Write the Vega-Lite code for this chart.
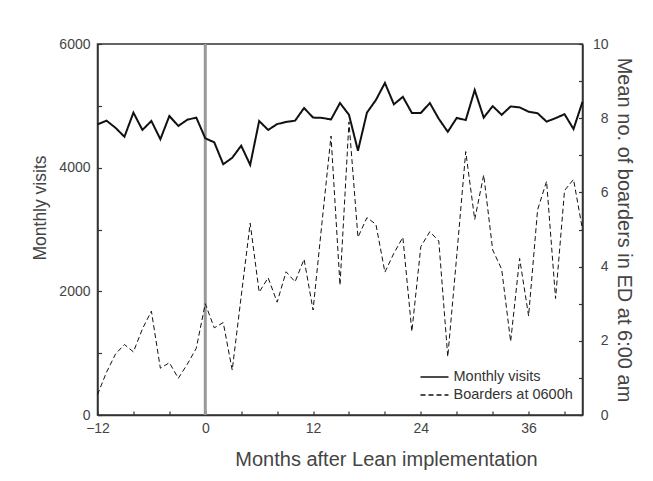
{
  "$schema": "https://vega.github.io/schema/vega-lite/v6.json",
  "width": 485,
  "height": 371,
  "autosize": {"type": "none"},
  "padding": {"left": 97.5, "top": 44, "right": 70.5, "bottom": 66},
  "background": "white",
  "config": {
    "font": "Liberation Sans",
    "view": {"stroke": "#333", "strokeWidth": 1.5},
    "axis": {
      "grid": false,
      "domainColor": "#333",
      "domainWidth": 1.5,
      "tickColor": "#333",
      "tickWidth": 1.2,
      "tickSize": -4,
      "labelColor": "#444",
      "titleColor": "#444",
      "labelFontSize": 14,
      "titleFontSize": 20,
      "titleFontWeight": "normal",
      "labelOverlap": false
    }
  },
  "data": {
    "values": [
      {"m": -12, "visits": 4700, "boarders": 0.55},
      {"m": -11, "visits": 4760, "boarders": 1.15},
      {"m": -10, "visits": 4645, "boarders": 1.64},
      {"m": -9, "visits": 4500, "boarders": 1.9},
      {"m": -8, "visits": 4890, "boarders": 1.7},
      {"m": -7, "visits": 4610, "boarders": 2.32},
      {"m": -6, "visits": 4755, "boarders": 2.8},
      {"m": -5, "visits": 4460, "boarders": 1.26},
      {"m": -4, "visits": 4835, "boarders": 1.41},
      {"m": -3, "visits": 4675, "boarders": 0.99},
      {"m": -2, "visits": 4775, "boarders": 1.37},
      {"m": -1, "visits": 4810, "boarders": 1.8},
      {"m": 0, "visits": 4475, "boarders": 3.0},
      {"m": 1, "visits": 4410, "boarders": 2.35},
      {"m": 2, "visits": 4055, "boarders": 2.49},
      {"m": 3, "visits": 4160, "boarders": 1.21},
      {"m": 4, "visits": 4355, "boarders": 3.2},
      {"m": 5, "visits": 4045, "boarders": 5.17},
      {"m": 6, "visits": 4755, "boarders": 3.31},
      {"m": 7, "visits": 4610, "boarders": 3.7},
      {"m": 8, "visits": 4705, "boarders": 3.04},
      {"m": 9, "visits": 4740, "boarders": 3.86},
      {"m": 10, "visits": 4760, "boarders": 3.59},
      {"m": 11, "visits": 4965, "boarders": 4.2},
      {"m": 12, "visits": 4810, "boarders": 2.83},
      {"m": 13, "visits": 4805, "boarders": 5.2},
      {"m": 14, "visits": 4780, "boarders": 7.52},
      {"m": 15, "visits": 5045, "boarders": 3.5},
      {"m": 16, "visits": 4855, "boarders": 7.9},
      {"m": 17, "visits": 4275, "boarders": 4.79},
      {"m": 18, "visits": 4890, "boarders": 5.32},
      {"m": 19, "visits": 5095, "boarders": 5.14},
      {"m": 20, "visits": 5370, "boarders": 3.85},
      {"m": 21, "visits": 5025, "boarders": 4.36},
      {"m": 22, "visits": 5145, "boarders": 4.79},
      {"m": 23, "visits": 4885, "boarders": 2.25},
      {"m": 24, "visits": 4885, "boarders": 4.54},
      {"m": 25, "visits": 5045, "boarders": 4.94},
      {"m": 26, "visits": 4790, "boarders": 4.69},
      {"m": 27, "visits": 4580, "boarders": 1.57},
      {"m": 28, "visits": 4805, "boarders": 4.3},
      {"m": 29, "visits": 4770, "boarders": 7.1},
      {"m": 30, "visits": 5255, "boarders": 5.27},
      {"m": 31, "visits": 4810, "boarders": 6.47},
      {"m": 32, "visits": 4995, "boarders": 4.45},
      {"m": 33, "visits": 4855, "boarders": 3.93},
      {"m": 34, "visits": 4990, "boarders": 1.98},
      {"m": 35, "visits": 4975, "boarders": 4.22},
      {"m": 36, "visits": 4905, "boarders": 2.67},
      {"m": 37, "visits": 4880, "boarders": 5.53},
      {"m": 38, "visits": 4745, "boarders": 6.3},
      {"m": 39, "visits": 4800, "boarders": 3.14},
      {"m": 40, "visits": 4865, "boarders": 6.05},
      {"m": 41, "visits": 4625, "boarders": 6.35},
      {"m": 42, "visits": 5065, "boarders": 5.0}
    ]
  },
  "layer": [
    {
      "data": {"values": [{"m": 0}]},
      "mark": {"type": "rule", "color": "#999999", "strokeWidth": 3},
      "encoding": {
        "x": {
          "field": "m",
          "type": "quantitative",
          "scale": {"domain": [-12, 42], "nice": false},
          "axis": {
            "title": "Months after Lean implementation",
            "values": [-12, -8, -4, 0, 4, 8, 12, 16, 20, 24, 28, 32, 36, 40],
            "labelExpr": "datum.value % 12 === 0 ? datum.label : ''",
            "labelFlush": false,
            "labelOverlap": false,
            "labelSeparation": 0,
            "labelPadding": 10,
            "titleX": 288.5,
            "titleY": 50.3,
            "titleAlign": "center",
            "titleBaseline": "alphabetic"
          }
        }
      }
    },
    {
      "mark": {"type": "line", "color": "#111111", "strokeWidth": 2},
      "encoding": {
        "x": {
          "field": "m",
          "type": "quantitative",
          "scale": {"domain": [-12, 42], "nice": false},
          "axis": {
            "title": "Months after Lean implementation",
            "values": [-12, -8, -4, 0, 4, 8, 12, 16, 20, 24, 28, 32, 36, 40],
            "labelExpr": "datum.value % 12 === 0 ? datum.label : ''",
            "labelFlush": false,
            "labelOverlap": false,
            "labelSeparation": 0,
            "labelPadding": 10,
            "titleX": 288.5,
            "titleY": 50.3,
            "titleAlign": "center",
            "titleBaseline": "alphabetic"
          }
        },
        "y": {
          "field": "visits",
          "type": "quantitative",
          "scale": {"domain": [0, 6000], "nice": false},
          "axis": {
            "orient": "left",
            "title": "Monthly visits",
            "titleFontSize": 17.5,
            "values": [0, 1000, 2000, 3000, 4000, 5000, 6000],
            "format": "d",
            "labelExpr": "datum.value % 2000 === 0 ? datum.label : ''",
            "labelPadding": 11.5,
            "titleAngle": -90,
            "titleX": -57.5,
            "titleY": 163.5,
            "titleAlign": "center",
            "titleBaseline": "middle"
          }
        },
        "strokeDash": {
          "datum": "Monthly visits",
          "type": "nominal",
          "scale": {"domain": ["Monthly visits", "Boarders at 0600h"], "range": [[1, 0], [5, 3]]},
          "legend": {
            "title": null,
            "orient": "none",
            "legendX": 326,
            "legendY": 322,
            "symbolType": "M-1.4,0H1.4",
            "symbolSize": 400,
            "symbolStrokeWidth": 1.5,
            "symbolStrokeColor": "#111111",
            "labelFontSize": 14.5,
            "labelColor": "#333333",
            "labelOffset": 8,
            "rowPadding": -4
          }
        }
      }
    },
    {
      "mark": {"type": "line", "color": "#111111", "strokeWidth": 1},
      "encoding": {
        "x": {
          "field": "m",
          "type": "quantitative",
          "scale": {"domain": [-12, 42], "nice": false},
          "axis": {
            "title": "Months after Lean implementation",
            "values": [-12, -8, -4, 0, 4, 8, 12, 16, 20, 24, 28, 32, 36, 40],
            "labelExpr": "datum.value % 12 === 0 ? datum.label : ''",
            "labelFlush": false,
            "labelOverlap": false,
            "labelSeparation": 0,
            "labelPadding": 10,
            "titleX": 288.5,
            "titleY": 50.3,
            "titleAlign": "center",
            "titleBaseline": "alphabetic"
          }
        },
        "y": {
          "field": "boarders",
          "type": "quantitative",
          "scale": {"domain": [0, 10], "nice": false},
          "axis": {
            "orient": "right",
            "title": "Mean no. of boarders in ED at 6:00 am",
            "values": [0, 1, 2, 3, 4, 5, 6, 7, 8, 9, 10],
            "labelExpr": "datum.value % 2 === 0 ? datum.label : ''",
            "labelAlign": "right",
            "labelPadding": 29.5,
            "titleAngle": 90,
            "titleX": 41,
            "titleY": 185.5,
            "titleAlign": "center",
            "titleBaseline": "middle"
          }
        },
        "strokeDash": {"datum": "Boarders at 0600h", "type": "nominal"}
      }
    }
  ],
  "resolve": {"scale": {"y": "independent"}}
}
